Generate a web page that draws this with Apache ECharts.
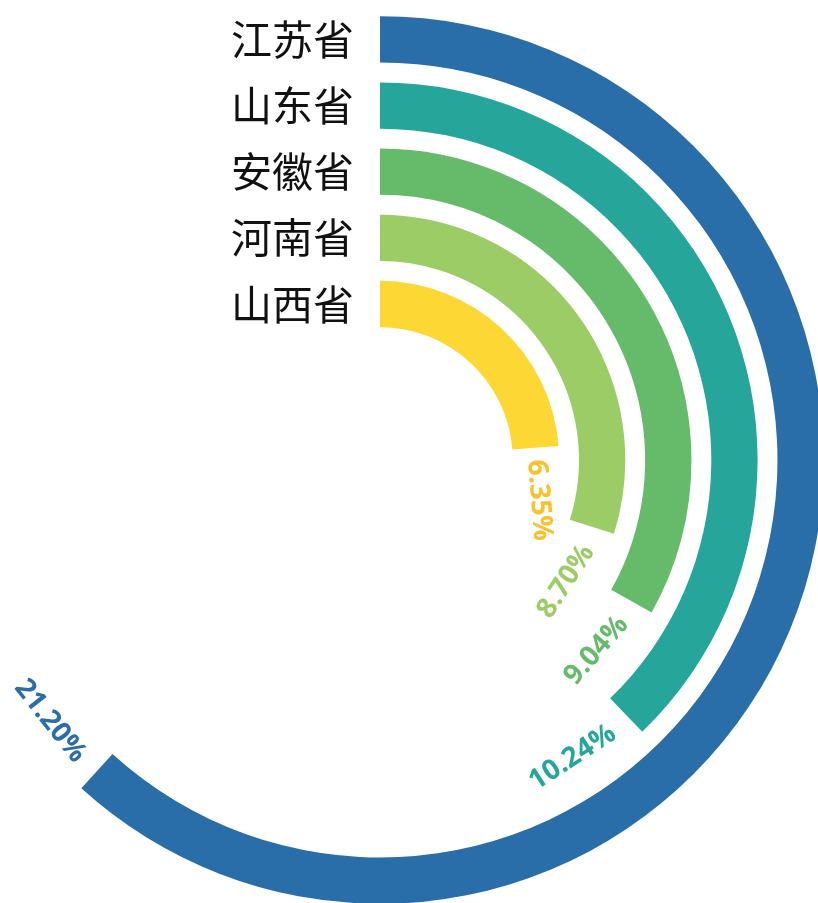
<!DOCTYPE html>
<html>
<head>
<meta charset="utf-8">
<script src="https://cdn.jsdelivr.net/npm/echarts@6/dist/echarts.min.js"></script>
<style>
html,body{margin:0;padding:0;background:#fff;}
#chart{width:818px;height:903px;}
</style>
</head>
<body>
<div id="chart"></div>
<script>
// ---- data ----
const provinces = ['江苏省', '山东省', '安徽省', '河南省', '山西省'];
const barValues = [61.75, 37.78, 33.14, 29.86, 23.75];
const labelTexts = ['21.20%', '10.24%', '9.04%', '8.70%', '6.35%'];
const barColors = ['#2A6EA9', '#26A69A', '#66BB6A', '#9CCC65', '#FDD835'];
const labelColors = ['#2A6EA9', '#26A69A', '#66BB6A', '#9CCC65', '#FBC02D'];

// ---- layout / style ----
const CX = 380, CY = 460, R0 = 122.9, R1 = 453.7, ANGLE_MAX = 100;
const LABEL_SIZE = 28, LABEL_FAMILY = 'Open Sans';
const measureCtx = document.createElement('canvas').getContext('2d');
measureCtx.font = 'bold ' + LABEL_SIZE + 'px "' + LABEL_FAMILY + '"';

function tangent(api, cat, v) {
  const a = api.coord([cat, v]);
  const b = api.coord([cat, v + 0.01]);
  const dx = b[0] - a[0], dy = b[1] - a[1];
  const L = Math.hypot(dx, dy);
  return [dx / L, dy / L];
}

function renderLabel(params, api) {
  const i = params.dataIndex;
  const cat = api.value(0), v = api.value(1);
  const cs = params.coordSys;
  const pEnd = api.coord([cat, v]);
  const r = Math.hypot(pEnd[0] - cs.cx, pEnd[1] - cs.cy);
  const unitPerPx = ANGLE_MAX / (2 * Math.PI * r);
  const text = labelTexts[i];
  const half = measureCtx.measureText(text).width / 2;
  const endDeg = v / ANGLE_MAX * 360;
  const flipped = endDeg > 90 && endDeg < 270;
  let x, y, s;
  if (!flipped) {
    const gap = 12;
    const p0 = api.coord([cat, v + gap * unitPerPx]);
    const t = tangent(api, cat, v);
    x = p0[0] + half * t[0];
    y = p0[1] + half * t[1];
    s = Math.atan2(t[1], t[0]);
  } else {
    const gap = 20;
    const vc = v + (gap + half) * unitPerPx;
    const pc = api.coord([cat, vc]);
    const t = tangent(api, cat, vc);
    x = pc[0];
    y = pc[1];
    s = Math.atan2(t[1], t[0]) + Math.PI;
  }
  return {
    type: 'text',
    x: x,
    y: y,
    rotation: -s,
    style: {
      text: text,
      fill: labelColors[i],
      fontSize: LABEL_SIZE,
      fontWeight: 'bold',
      fontFamily: LABEL_FAMILY,
      align: 'center',
      verticalAlign: 'middle'
    }
  };
}

const chart = echarts.init(document.getElementById('chart'));
chart.setOption({
  animation: false,
  backgroundColor: '#fff',
  polar: { center: [CX, CY], radius: [R0, R1] },
  angleAxis: {
    type: 'value', min: 0, max: ANGLE_MAX, startAngle: 90, clockwise: true, show: false
  },
  radiusAxis: {
    type: 'category',
    data: provinces,
    inverse: true,
    axisLine: { show: false },
    axisTick: { show: false },
    splitLine: { show: false },
    axisLabel: {
      interval: 0,
      hideOverlap: false,
      fontSize: 41,
      color: '#111',
      margin: 26,
      fontFamily: '"Noto Sans CJK SC"'
    }
  },
  series: [
    {
      type: 'bar',
      coordinateSystem: 'polar',
      barWidth: '70%',
      silent: true,
      data: barValues.map((v, i) => ({ value: v, itemStyle: { color: barColors[i] } }))
    },
    {
      type: 'custom',
      coordinateSystem: 'polar',
      silent: true,
      data: barValues.map((v, i) => [provinces[i], v]),
      renderItem: renderLabel
    }
  ]
});
</script>
</body>
</html>
